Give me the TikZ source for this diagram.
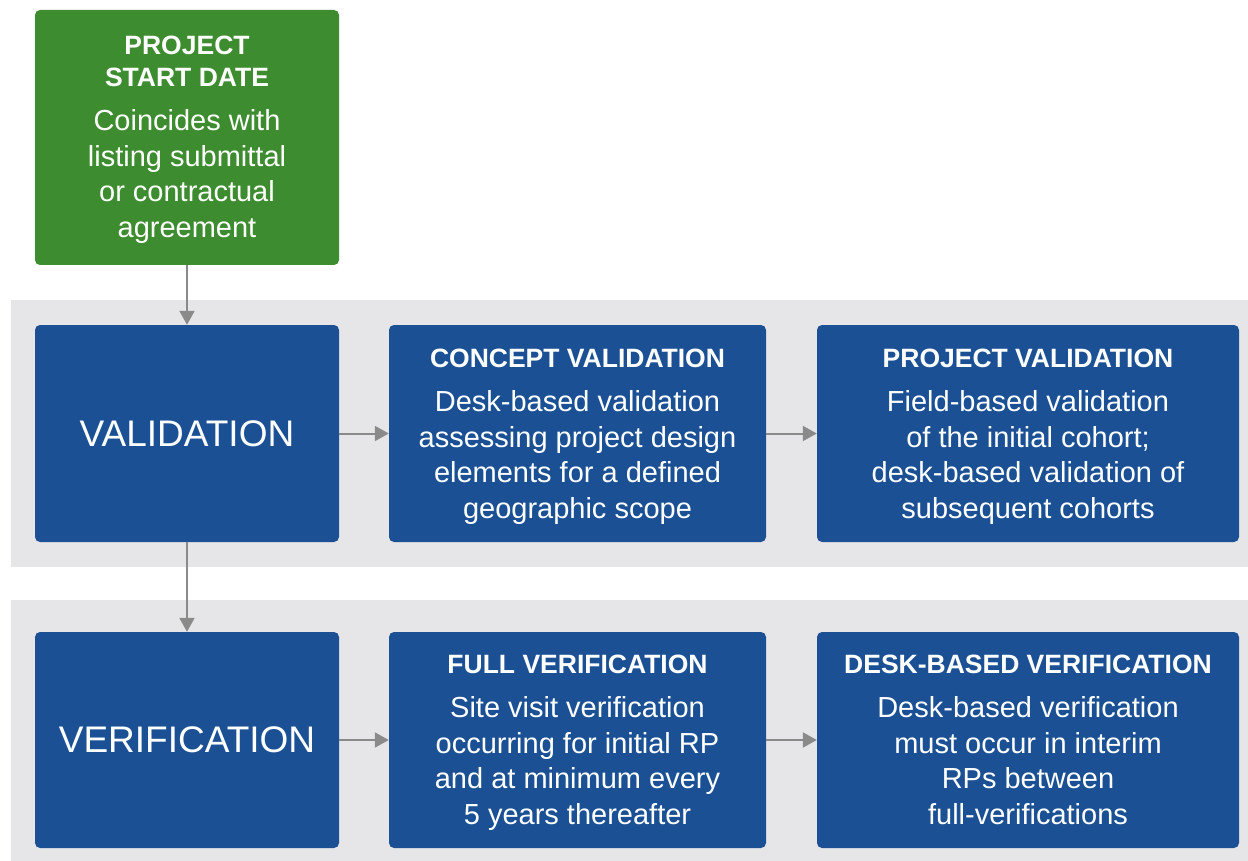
\documentclass[tikz,border=0pt]{standalone}
\usepackage{fontspec}
\setmainfont{Liberation Sans}
\usetikzlibrary{arrows.meta,calc}
\definecolor{gboxc}{HTML}{3D8C2F}
\definecolor{bboxc}{HTML}{1B5194}
\definecolor{bandc}{HTML}{E6E6E8}
\definecolor{arrc}{HTML}{8A8A8A}
\newcommand{\ttlfont}{\fontsize{26.5}{32}\selectfont\bfseries}
\newcommand{\bdyfont}{\fontsize{29}{35.5}\selectfont}
\newcommand{\boxtxt}[3]{\begin{minipage}{#1}\centering{\ttlfont #2\par}\vspace{8.5pt}{\bdyfont #3\par}\end{minipage}}
\tikzset{
  band/.style={fill=bandc, draw=none},
  boxbase/.style={rectangle, rounded corners=5pt, draw=none, inner sep=0pt},
  bluebox/.style={boxbase, fill=bboxc},
  greenbox/.style={boxbase, fill=gboxc},
  boxtext/.style={text=white, inner sep=0pt, anchor=north},
  biglabel/.style={text=white, font=\fontsize{37}{44}\selectfont},
  arr/.style={draw=arrc, line width=2pt, -{Triangle[width=15pt,length=14pt]}}
}
\begin{document}
\begin{tikzpicture}[x=1pt,y=-1pt]
\useasboundingbox (0,0) rectangle (1248,861);
\fill[white] (0,0) rectangle (1248,861);
% bands
\path[band] (11,300) rectangle (1248,567);
\path[band] (11,600) rectangle (1248,861);
% boxes
\node[greenbox, minimum width=304pt, minimum height=255pt] (start) at (187,137.5) {};
\node[bluebox, minimum width=304pt, minimum height=217pt] (val) at (187,433.5) {};
\node[bluebox, minimum width=377pt, minimum height=217pt] (cv) at (577.5,433.5) {};
\node[bluebox, minimum width=422pt, minimum height=217pt] (pv) at (1028,433.5) {};
\node[bluebox, minimum width=304pt, minimum height=216pt] (ver) at (187,740) {};
\node[bluebox, minimum width=377pt, minimum height=216pt] (fv) at (577.5,740) {};
\node[bluebox, minimum width=422pt, minimum height=216pt] (dv) at (1028,740) {};
% texts
\node[boxtext] (starttxt) at ($(start.north)+(0,26)$)
  {\boxtxt{300pt}{PROJECT\\START DATE}{Coincides with\\listing submittal\\or contractual\\agreement}};
\node[biglabel] (valtxt) at (val.center) {VALIDATION};
\node[biglabel] (vertxt) at (ver.center) {VERIFICATION};
\node[boxtext] (cvtxt) at ($(cv.north)+(0,24)$)
  {\boxtxt{400pt}{CONCEPT VALIDATION}{Desk-based validation\\assessing project design\\elements for a defined\\geographic scope}};
\node[boxtext] (pvtxt) at ($(pv.north)+(0,24)$)
  {\boxtxt{400pt}{PROJECT VALIDATION}{Field-based validation\\of the initial cohort;\\desk-based validation of\\subsequent cohorts}};
\node[boxtext] (fvtxt) at ($(fv.north)+(0,23)$)
  {\boxtxt{400pt}{FULL VERIFICATION}{Site visit verification\\occurring for initial RP\\and at minimum every\\5 years thereafter}};
\node[boxtext] (dvtxt) at ($(dv.north)+(0,23)$)
  {\boxtxt{400pt}{DESK-BASED VERIFICATION}{Desk-based verification\\must occur in interim\\RPs between\\full-verifications}};
% connectors
\draw[arr] (start) -- (val);
\draw[arr] (val) -- (ver);
\draw[arr] (val) -- (cv);
\draw[arr] (cv) -- (pv);
\draw[arr] (ver) -- (fv);
\draw[arr] (fv) -- (dv);
\end{tikzpicture}
\end{document}
